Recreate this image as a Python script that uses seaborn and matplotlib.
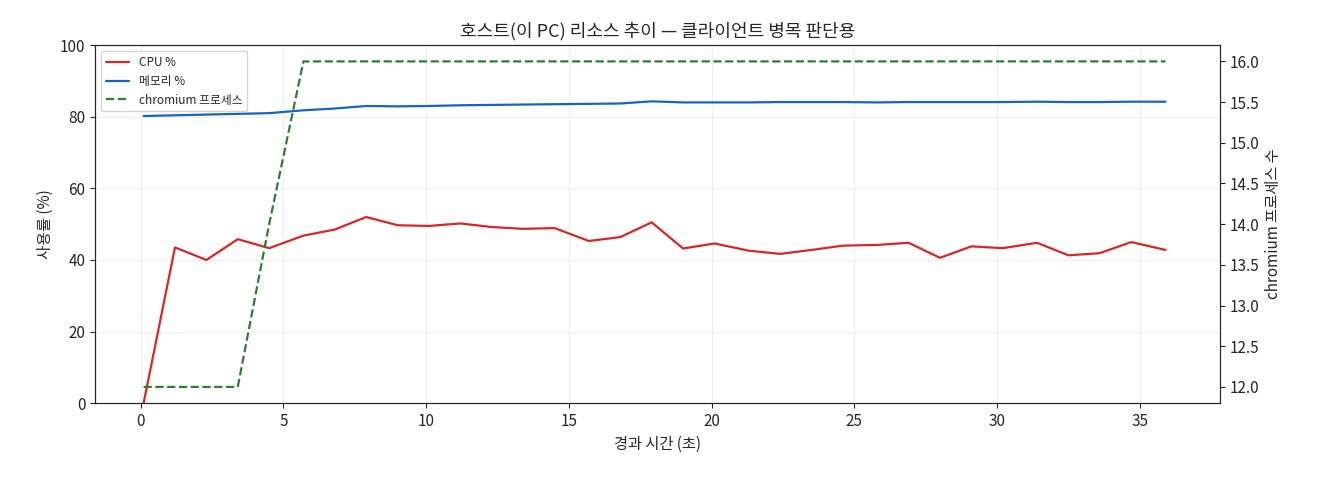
import numpy as np
import matplotlib
matplotlib.use("Agg")
import matplotlib.pyplot as plt
import seaborn as sns

sns.set_style("ticks")
plt.rcParams["font.family"] = ["Noto Sans CJK KR", "DejaVu Sans"]
plt.rcParams["xtick.labelsize"] = 11
plt.rcParams["ytick.labelsize"] = 11

# --- data ------------------------------------------------------------------
elapsed = [0.1, 1.2, 2.3, 3.4, 4.5, 5.7, 6.8, 7.9, 9.0, 10.1, 11.2, 12.3,
           13.4, 14.5, 15.7, 16.8, 17.9, 19.0, 20.1, 21.3, 22.4, 23.5, 24.6,
           25.8, 26.9, 28.0, 29.1, 30.2, 31.4, 32.5, 33.6, 34.7, 35.9]
cpu = [0, 43.5, 40.0, 45.8, 43.3, 46.8, 48.5, 52.0, 49.7, 49.5, 50.2, 49.2,
       48.7, 48.9, 45.3, 46.4, 50.5, 43.2, 44.6, 42.6, 41.7, 42.8, 44.0,
       44.2, 44.8, 40.6, 43.8, 43.3, 44.8, 41.3, 41.9, 45.0, 42.8]
mem = [80.2, 80.4, 80.6, 80.8, 81.0, 81.8, 82.3, 83.0, 82.9, 83.0, 83.2, 83.3,
       83.4, 83.5, 83.6, 83.7, 84.3, 84.0, 84.0, 84.0, 84.1, 84.1, 84.1,
       84.0, 84.1, 84.1, 84.1, 84.1, 84.2, 84.1, 84.1, 84.2, 84.2]
chromium = [12, 12, 12, 12, 14, 16, 16, 16, 16, 16, 16, 16, 16, 16, 16, 16,
            16, 16, 16, 16, 16, 16, 16, 16, 16, 16, 16, 16, 16, 16, 16, 16, 16]

fig, ax = plt.subplots(figsize=(13.2, 4.8), dpi=100)
sns.lineplot(x=elapsed, y=cpu, ax=ax, color="#d62728", lw=1.6, label="CPU %")
sns.lineplot(x=elapsed, y=mem, ax=ax, color="#1565c0", lw=1.6, label="메모리 %")
ax.set_ylim(0, 100)
ax.set_xlim(-1.6, 37.8)
ax.set_xlabel("경과 시간 (초)", fontsize=11)
ax.set_ylabel("사용률 (%)", fontsize=11)
ax.grid(alpha=0.3)
ax.set_title("호스트(이 PC) 리소스 추이 — 클라이언트 병목 판단용", fontsize=13)

ax2 = ax.twinx()
sns.lineplot(x=elapsed, y=chromium, ax=ax2, color="#2e7d32", lw=1.6,
             linestyle="--", label="chromium 프로세스")
ax2.set_ylim(11.8, 16.2)
ax2.set_ylabel("chromium 프로세스 수", fontsize=11)
ax2.get_legend().remove()

h1, l1 = ax.get_legend_handles_labels()
h2, l2 = ax2.get_legend_handles_labels()
ax.legend(h1 + h2, l1 + l2, loc="upper left", fontsize=8.5)
ax2.grid(False)

fig.subplots_adjust(left=0.072, right=0.924, top=0.906, bottom=0.16)
fig.savefig("out.png", dpi=100)
